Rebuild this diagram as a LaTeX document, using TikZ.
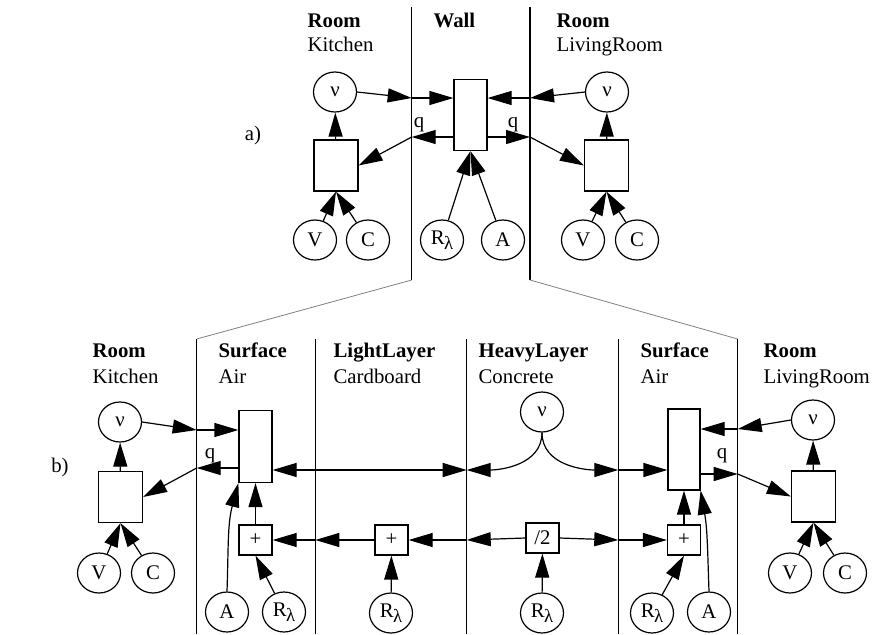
\documentclass[tikz,border=0pt]{standalone}
\usepackage{fontspec}
\setmainfont[Scale=1.04]{Liberation Serif}
\usetikzlibrary{shapes.geometric,arrows.meta}

\newcommand{\Rlam}{R\kern-0.3pt\raisebox{-0.55ex}{\small λ}}

\tikzset{
  var/.style={draw,ellipse,inner sep=0pt,minimum width=21.5pt,minimum height=20pt},
  roombox/.style={draw,inner sep=0pt,minimum width=22pt,minimum height=25.5pt},
  surfbox/.style={draw,inner sep=0pt,minimum width=16.5pt,minimum height=36pt},
  opbox/.style={draw,inner sep=0pt,minimum width=16.5pt,minimum height=15pt},
  arr/.style={-{Triangle[length=12pt,width=7pt]}},
  dblarr/.style={{Triangle[length=12pt,width=7pt]}-{Triangle[length=12pt,width=7pt]}},
  head/.style={anchor=base west,inner sep=0pt,font=\bfseries},
  sub/.style={anchor=base west,inner sep=0pt}
}

\begin{document}
\begin{tikzpicture}[x=0.5pt,y=-0.5pt,line width=0.6pt]
\useasboundingbox (0,0) rectangle (875,634);

% ---- a) ----
\node (la) at (253,135) {a)};
\draw (411.7,7) -- (411.7,280);
\draw (530,7) -- (530,280);

\node[head] (tRoomK) at (307,27) {Room};
\node[sub] (tKitchen) at (307,51) {Kitchen};
\node[head] (tWall) at (433,27) {Wall};
\node[head] (tRoomL) at (556,27) {Room};
\node[sub] (tLiving) at (556,51) {LivingRoom};

\node[var] (nuK) at (335,92) {ν};
\node[roombox] (boxK) at (336,165.5) {};
\node[var] (VK) at (315,240) {V};
\node[var] (CK) at (368,240) {C};

\node[draw,inner sep=0pt,minimum width=16.5pt,minimum height=35.5pt] (wall) at (470.5,115) {};
\node[var] (RlW) at (442,240) {\Rlam};
\node[var] (AW) at (503,240) {A};

\node[var] (nuL) at (607,92) {ν};
\node[roombox] (boxL) at (606.5,165.5) {};
\node[var] (VL) at (583,240) {V};
\node[var] (CL) at (637,240) {C};

\coordinate (pA1) at (411.7,98);
\coordinate (pA2) at (411.7,137);
\coordinate (pA3) at (530,98);
\coordinate (pA4) at (530,137);

\draw[arr] (boxK) -- (nuK);
\draw[arr] (VK) -- (boxK.south);
\draw[arr] (CK) -- (boxK.south);
\draw[arr] (nuK.east) -- (pA1);
\draw[arr] (pA1) -- (pA1 -| wall.west);
\draw[arr] (pA2 -| wall.west) -- (pA2);
\draw[arr] (pA2) -- (boxK.east);
\draw[arr] (nuL.west) -- (pA3);
\draw[arr] (pA3) -- (pA3 -| wall.east);
\draw[arr] (pA4 -| wall.east) -- (pA4);
\draw[arr] (pA4) -- (boxL.west);
\draw[arr] (boxL) -- (nuL);
\draw[arr] (VL) -- (boxL.south);
\draw[arr] (CL) -- (boxL.south);
\draw[arr] (RlW) -- (wall.south);
\draw[arr] (AW) -- (wall.south);
\node[anchor=base] (qA1) at (419,127) {q};
\node[anchor=base] (qA2) at (513,127) {q};

% zoom lines
\draw[gray,line width=0.4pt] (411.7,280) -- (196.7,339);
\draw[gray,line width=0.4pt] (530,280) -- (737.7,339);

% ---- b) ----
\node (lb) at (60,467) {b)};
\foreach \x in {196.7,315.3,466.7,618.3,737.7}
  \draw (\x,339) -- (\x,634);

\node[head] (tRoomK2) at (92,357) {Room};
\node[sub] (tKitchen2) at (92,383) {Kitchen};
\node[head] (tSurfL) at (218,357) {Surface};
\node[sub] (tAirL) at (218,383) {Air};
\node[head] (tLight) at (333,357) {LightLayer};
\node[sub] (tCard) at (333,383) {Cardboard};
\node[head] (tHeavy) at (478,357) {HeavyLayer};
\node[sub] (tConc) at (478,383) {Concrete};
\node[head] (tSurfR) at (640,357) {Surface};
\node[sub] (tAirR) at (640,383) {Air};
\node[head] (tRoomL2) at (763,357) {Room};
\node[sub] (tLiving2) at (763,383) {LivingRoom};

\node[var] (nuK2) at (120,422) {ν};
\node[roombox] (boxK2) at (120.5,497) {};
\node[var] (VK2) at (99,573) {V};
\node[var] (CK2) at (153,573) {C};

\node[surfbox] (surfL) at (255.5,446.5) {};
\node[opbox] (plusL) at (255.5,540) {+};
\node[var] (AL) at (227,612) {A};
\node[var] (RlL) at (284,612) {\Rlam};

\node[opbox] (plusM) at (391.5,540) {+};
\node[var] (RlM) at (391,613) {\Rlam};

\node[var] (nuH) at (542,412) {ν};
\node[opbox] (half) at (542.5,538) {/2};
\node[var] (RlH) at (542,613) {\Rlam};

\node[draw,inner sep=0pt,minimum width=16pt,minimum height=40.5pt] (surfR) at (684,449.5) {};
\node[opbox] (plusR) at (684,540) {+};
\node[var] (RlR) at (652,613) {\Rlam};
\node[var] (AR) at (709,612) {A};

\node[var] (nuR) at (813,420) {ν};
\node[roombox] (boxR) at (813.5,496.5) {};
\node[var] (VR) at (790,573) {V};
\node[var] (CR) at (845,573) {C};

\coordinate (pB1) at (196.7,430);
\coordinate (pB2) at (196.7,468);
\coordinate (pB3) at (466.7,470);
\coordinate (pB4) at (618.3,470);
\coordinate (pB5) at (737.7,429);
\coordinate (pB6) at (737.7,474);
\coordinate (pB7) at (315.3,540);
\coordinate (pB8) at (466.7,540);
\coordinate (pB9) at (618.3,540);

\draw[arr] (boxK2) -- (nuK2);
\draw[arr] (VK2) -- (boxK2.south);
\draw[arr] (CK2) -- (boxK2.south);
\draw[arr] (nuK2.east) -- (pB1);
\draw[arr] (pB1) -- (pB1 -| surfL.west);
\draw[arr] (pB2 -| surfL.west) -- (pB2);
\draw[arr] (pB2) -- (boxK2.east);
\node[anchor=base] (qB1) at (210,458) {q};

\draw[dblarr] (pB3 -| surfL.east) -- (pB3);
\draw[arr] (nuH.south) to[out=-90,in=0] (pB3);
\draw[arr] (nuH.south) to[out=-90,in=180] (pB4);
\draw[arr] (pB4) -- (pB4 -| surfR.west);

\draw[arr] (nuR.west) -- (pB5);
\draw[arr] (pB5) -- (pB5 -| surfR.east);
\draw[arr] (pB6 -| surfR.east) -- (pB6);
\draw[arr] (pB6) -- (boxR.west);
\node[anchor=base] (qB2) at (722,458) {q};
\draw[arr] (boxR) -- (nuR);
\draw[arr] (VR) -- (boxR.south);
\draw[arr] (CR) -- (boxR.south);

\draw[arr] (pB7) -- (plusL.east);
\draw[arr] (plusM.west) -- (pB7);
\draw[arr] (pB8) -- (plusM.east);
\draw[arr] (half.west) -- (pB8);
\draw[arr] (half.east) -- (pB9);
\draw[arr] (pB9) -- (plusR.west);

\draw[arr] (RlM) -- (plusM);
\draw[arr] (RlH) -- (half);
\draw[arr] (RlL) -- (plusL.south);
\draw[arr] (RlR) -- (plusR.south);
\draw[arr] (plusL) -- (surfL);
\draw[arr] (plusR) -- (surfR);
\draw[arr] (AL.north) to[out=88,in=-105] (surfL.south west);
\draw[arr] (AR.north) to[out=92,in=-80] (surfR.south east);
\end{tikzpicture}
\end{document}
